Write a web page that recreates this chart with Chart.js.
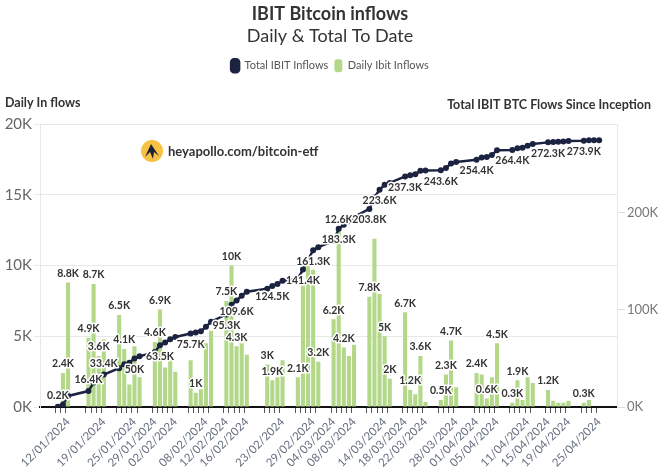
<!DOCTYPE html>
<html>
<head>
<meta charset="utf-8">
<script src="https://cdn.jsdelivr.net/npm/chart.js@4.4.1/dist/chart.umd.min.js"></script>
<style>
  html, body { margin: 0; padding: 0; background: #fff; }
</style>
</head>
<body>
<canvas id="graficoIbit" width="660" height="467"></canvas>
<script>
// dias de mercado (dd/mm, 2024)
const tradingDays = [
  '10/01','11/01','12/01','16/01','17/01','18/01','19/01','22/01','23/01','24/01','25/01','26/01',
  '29/01','30/01','31/01','01/02','02/02','05/02','06/02','07/02','08/02','09/02',
  '12/02','13/02','14/02','15/02','16/02','20/02','21/02','22/02','23/02',
  '26/02','27/02','28/02','29/02','01/03','04/03','05/03','06/03','07/03','08/03',
  '11/03','12/03','13/03','14/03','15/03','18/03','19/03','20/03','21/03','22/03',
  '25/03','26/03','27/03','28/03','01/04','02/04','03/04','04/04','05/04',
  '08/04','09/04','10/04','11/04','12/04','15/04','16/04','17/04','18/04','19/04',
  '22/04','23/04','24/04','25/04'
];

// entradas diarias (miles de BTC)
const dailyInflows = [
  0.2, 2.4, 8.8, 4.9, 8.7, 3.6, 4.8, 6.5, 4.1, 1.6, 4.3, 2.1,
  4.6, 6.9, 2.8, 3.3, 2.5, 3.3, 1.0, 1.25, 4.5, 5.4,
  7.5, 10.0, 4.3, 4.5, 3.7, 3.0, 1.9, 2.1, 3.3,
  2.1, 8.6, 10.0, 9.7, 3.2, 6.2, 12.6, 4.2, 3.6, 4.4,
  7.8, 11.9, 8.0, 5.0, 2.0, 6.7, 1.2, 0.9, 3.6, 0.35,
  0.5, 2.3, 4.7, 1.4, 2.4, 2.3, 0.6, 2.1, 4.5,
  0.3, 1.9, 0.5, 2.1, 1.7, 1.2, 0.45, 0.3, 0.3, 0.45,
  0.3, 0.5, 0, 0
];

// total acumulado (miles de BTC)
const totalInflows = [
  0.2, 2.6, 11.4, 16.4, 25.1, 28.7, 33.4, 39.9, 44.0, 45.6, 50.0, 52.1,
  56.6, 63.5, 66.3, 69.6, 72.1, 75.7, 76.7, 78.0, 82.5, 87.8,
  95.3, 105.3, 109.6, 114.4, 118.6, 121.8, 124.5, 126.6, 129.9,
  132.2, 141.4, 151.5, 161.3, 164.5, 170.7, 183.3, 187.5, 191.1, 195.5,
  203.8, 215.7, 223.6, 228.6, 230.6, 237.3, 238.5, 239.4, 243.0, 243.3,
  243.6, 245.9, 250.6, 252.0, 254.4, 256.7, 257.3, 259.4, 264.1,
  264.4, 266.3, 266.8, 268.9, 270.6, 272.3, 272.7, 273.0, 273.3, 273.6,
  273.9, 274.4, 274.4, 274.4
];

// etiquetas de los ejes
const tickDates = [
  '12/01','19/01','25/01','29/01','02/02','08/02','12/02','16/02','23/02','29/02','04/03',
  '08/03','14/03','18/03','22/03','28/03','01/04','05/04','11/04','15/04','19/04','25/04'
];
const rightTicks = [0, 100, 200];

// barras y puntos con etiqueta
const barLabelDays = [
  '11/01','12/01','16/01','17/01','18/01','22/01','23/01','29/01','30/01','06/02',
  '12/02','13/02','14/02','20/02','21/02','26/02','01/03','04/03','05/03','06/03',
  '11/03','14/03','15/03','18/03','19/03','21/03','25/03','26/03','27/03',
  '01/04','03/04','05/04','08/04','09/04','15/04','22/04'
];
const totalLabelDays = [
  '10/01','16/01','19/01','25/01','30/01','05/02','12/02','14/02','21/02','27/02',
  '29/02','05/03','11/03','13/03','18/03','25/03','01/04','08/04','15/04','22/04'
];
const totalLabelsAbove = ['10/01','16/01','19/01'];

const FUENTE = 'Lato, "Open Sans", sans-serif';
const AZUL = '#1b2341';
const VERDE = '#b3d88a';

// calendario completo para que se vean los huecos de fin de semana
const dias = [];
for (let d = new Date(2024, 0, 7); d <= new Date(2024, 3, 28); d.setDate(d.getDate() + 1)) {
  dias.push(String(d.getDate()).padStart(2, '0') + '/' + String(d.getMonth() + 1).padStart(2, '0'));
}
const etiquetas = dias.map(d => d + '/2024');
const serie = (arr) => dias.map(d => {
  const i = tradingDays.indexOf(d);
  return i < 0 ? null : arr[i];
});
const barras = serie(dailyInflows);
const total = serie(totalInflows);
const fmtK = v => (Math.round(v * 10) / 10) + 'K';

const etiquetasPlugin = {
  id: 'etiquetas',
  afterDatasetsDraw(chart) {
    const ctx = chart.ctx;
    const metaLinea = chart.getDatasetMeta(0);
    const metaBarra = chart.getDatasetMeta(1);
    ctx.save();
    ctx.font = 'bold 10.5px ' + FUENTE;
    ctx.textAlign = 'center';
    ctx.textBaseline = 'middle';
    ctx.lineJoin = 'round';
    ctx.lineWidth = 3;
    ctx.strokeStyle = '#fff';
    ctx.fillStyle = '#333';

    barLabelDays.forEach(d => {
      const i = dias.indexOf(d);
      const el = metaBarra.data[i];
      const txt = fmtK(barras[i]);
      ctx.strokeText(txt, el.x, el.y - 9);
      ctx.fillText(txt, el.x, el.y - 9);
    });
    totalLabelDays.forEach(d => {
      const i = dias.indexOf(d);
      const el = metaLinea.data[i];
      const txt = fmtK(total[i]);
      const y = totalLabelsAbove.includes(d) ? el.y - 11 : el.y + 11;
      ctx.strokeText(txt, el.x, y);
      ctx.fillText(txt, el.x, y);
    });
    ctx.restore();
  },
  afterDraw(chart) {
    const ctx = chart.ctx;
    ctx.save();
    ctx.fillStyle = '#333';
    ctx.font = 'bold 12.5px ' + FUENTE;
    ctx.textBaseline = 'middle';
    ctx.textAlign = 'left';
    ctx.fillText('Daily In flows', 5, 103);
    ctx.textAlign = 'right';
    ctx.fillText('Total IBIT BTC Flows Since Inception', 651, 105);

    // logo
    const cx = 152, cy = 151;
    ctx.beginPath();
    ctx.arc(cx, cy, 11, 0, Math.PI * 2);
    ctx.fillStyle = '#f7c244';
    ctx.fill();
    ctx.fillStyle = '#1f2233';
    ctx.beginPath();
    ctx.moveTo(cx - 7, cy + 6);
    ctx.lineTo(cx - 1, cy - 7);
    ctx.lineTo(cx + 7, cy + 5);
    ctx.lineTo(cx + 2, cy + 1);
    ctx.lineTo(cx + 1, cy + 8);
    ctx.lineTo(cx - 2, cy + 1);
    ctx.closePath();
    ctx.fill();
    ctx.fillStyle = '#333';
    ctx.font = 'bold 13px ' + FUENTE;
    ctx.textAlign = 'left';
    ctx.fillText('heyapollo.com/bitcoin-etf', 168, 152);
    ctx.restore();
  }
};

// espacio extra bajo la leyenda
const espacioLeyenda = {
  id: 'espacioLeyenda',
  beforeInit(chart) {
    const fitOriginal = chart.legend.fit;
    chart.legend.fit = function () {
      fitOriginal.bind(chart.legend)();
      this.height = 71;
    };
  }
};

new Chart(document.getElementById('graficoIbit'), {
  data: {
    labels: etiquetas,
    datasets: [{
      type: 'line',
      label: 'Total IBIT Inflows',
      data: total,
      yAxisID: 'y1',
      order: 0,
      borderColor: AZUL,
      backgroundColor: AZUL,
      pointBackgroundColor: AZUL,
      pointBorderWidth: 0,
      pointRadius: 3,
      borderWidth: 2.5,
      tension: 0,
      spanGaps: true
    }, {
      type: 'bar',
      label: 'Daily Ibit Inflows',
      data: barras,
      yAxisID: 'y',
      order: 1,
      backgroundColor: VERDE,
      borderWidth: 0,
      categoryPercentage: 1,
      barPercentage: 0.8
    }]
  },
  options: {
    responsive: false,
    animation: false,
    layout: { padding: 0 },
    plugins: {
      title: {
        display: true,
        text: 'IBIT Bitcoin inflows',
        color: '#333',
        font: { size: 18, weight: 'bold', family: FUENTE },
        padding: { top: 3, bottom: 1 }
      },
      subtitle: {
        display: true,
        text: 'Daily & Total To Date',
        color: '#333',
        font: { size: 18, weight: 'normal', family: FUENTE },
        padding: { top: 0, bottom: 6 }
      },
      legend: {
        display: true,
        labels: {
          color: '#555',
          font: { size: 11, family: FUENTE },
          boxWidth: 8,
          boxHeight: 13,
          useBorderRadius: true,
          borderRadius: 3,
          padding: 6
        }
      },
      tooltip: { enabled: false }
    },
    scales: {
      x: {
        type: 'category',
        offset: true,
        afterFit: s => { s.height = 60; },
        grid: {
          drawOnChartArea: false,
          tickLength: 6,
          tickColor: c => (c.tick && tradingDays.includes(dias[c.index])) ? '#555' : 'rgba(0,0,0,0)'
        },
        border: { color: '#111', width: 2 },
        ticks: {
          autoSkip: false,
          minRotation: 45,
          maxRotation: 45,
          padding: 2,
          color: '#666f80',
          font: { size: 11.5, family: FUENTE },
          callback: (v, i) => tickDates.includes(dias[i]) ? etiquetas[i] : ''
        }
      },
      y: {
        position: 'left',
        min: 0,
        max: 20,
        afterFit: s => { s.width = 40; },
        grid: { color: '#e8e8e8', tickLength: 6 },
        border: { color: '#e8e8e8' },
        ticks: {
          stepSize: 5,
          padding: 2,
          color: '#666',
          font: { size: 15, family: FUENTE },
          callback: v => v + 'K'
        }
      },
      y1: {
        position: 'right',
        min: 0,
        max: 291,
        afterFit: s => { s.width = 43; },
        afterBuildTicks: s => { s.ticks = rightTicks.map(v => ({ value: v })); },
        grid: { drawOnChartArea: false, color: '#ddd', tickLength: 8 },
        border: { color: '#e8e8e8' },
        ticks: {
          padding: 2,
          color: '#777',
          font: { size: 13, family: FUENTE },
          callback: v => v + 'K'
        }
      }
    }
  },
  plugins: [etiquetasPlugin, espacioLeyenda]
});
</script>
</body>
</html>
